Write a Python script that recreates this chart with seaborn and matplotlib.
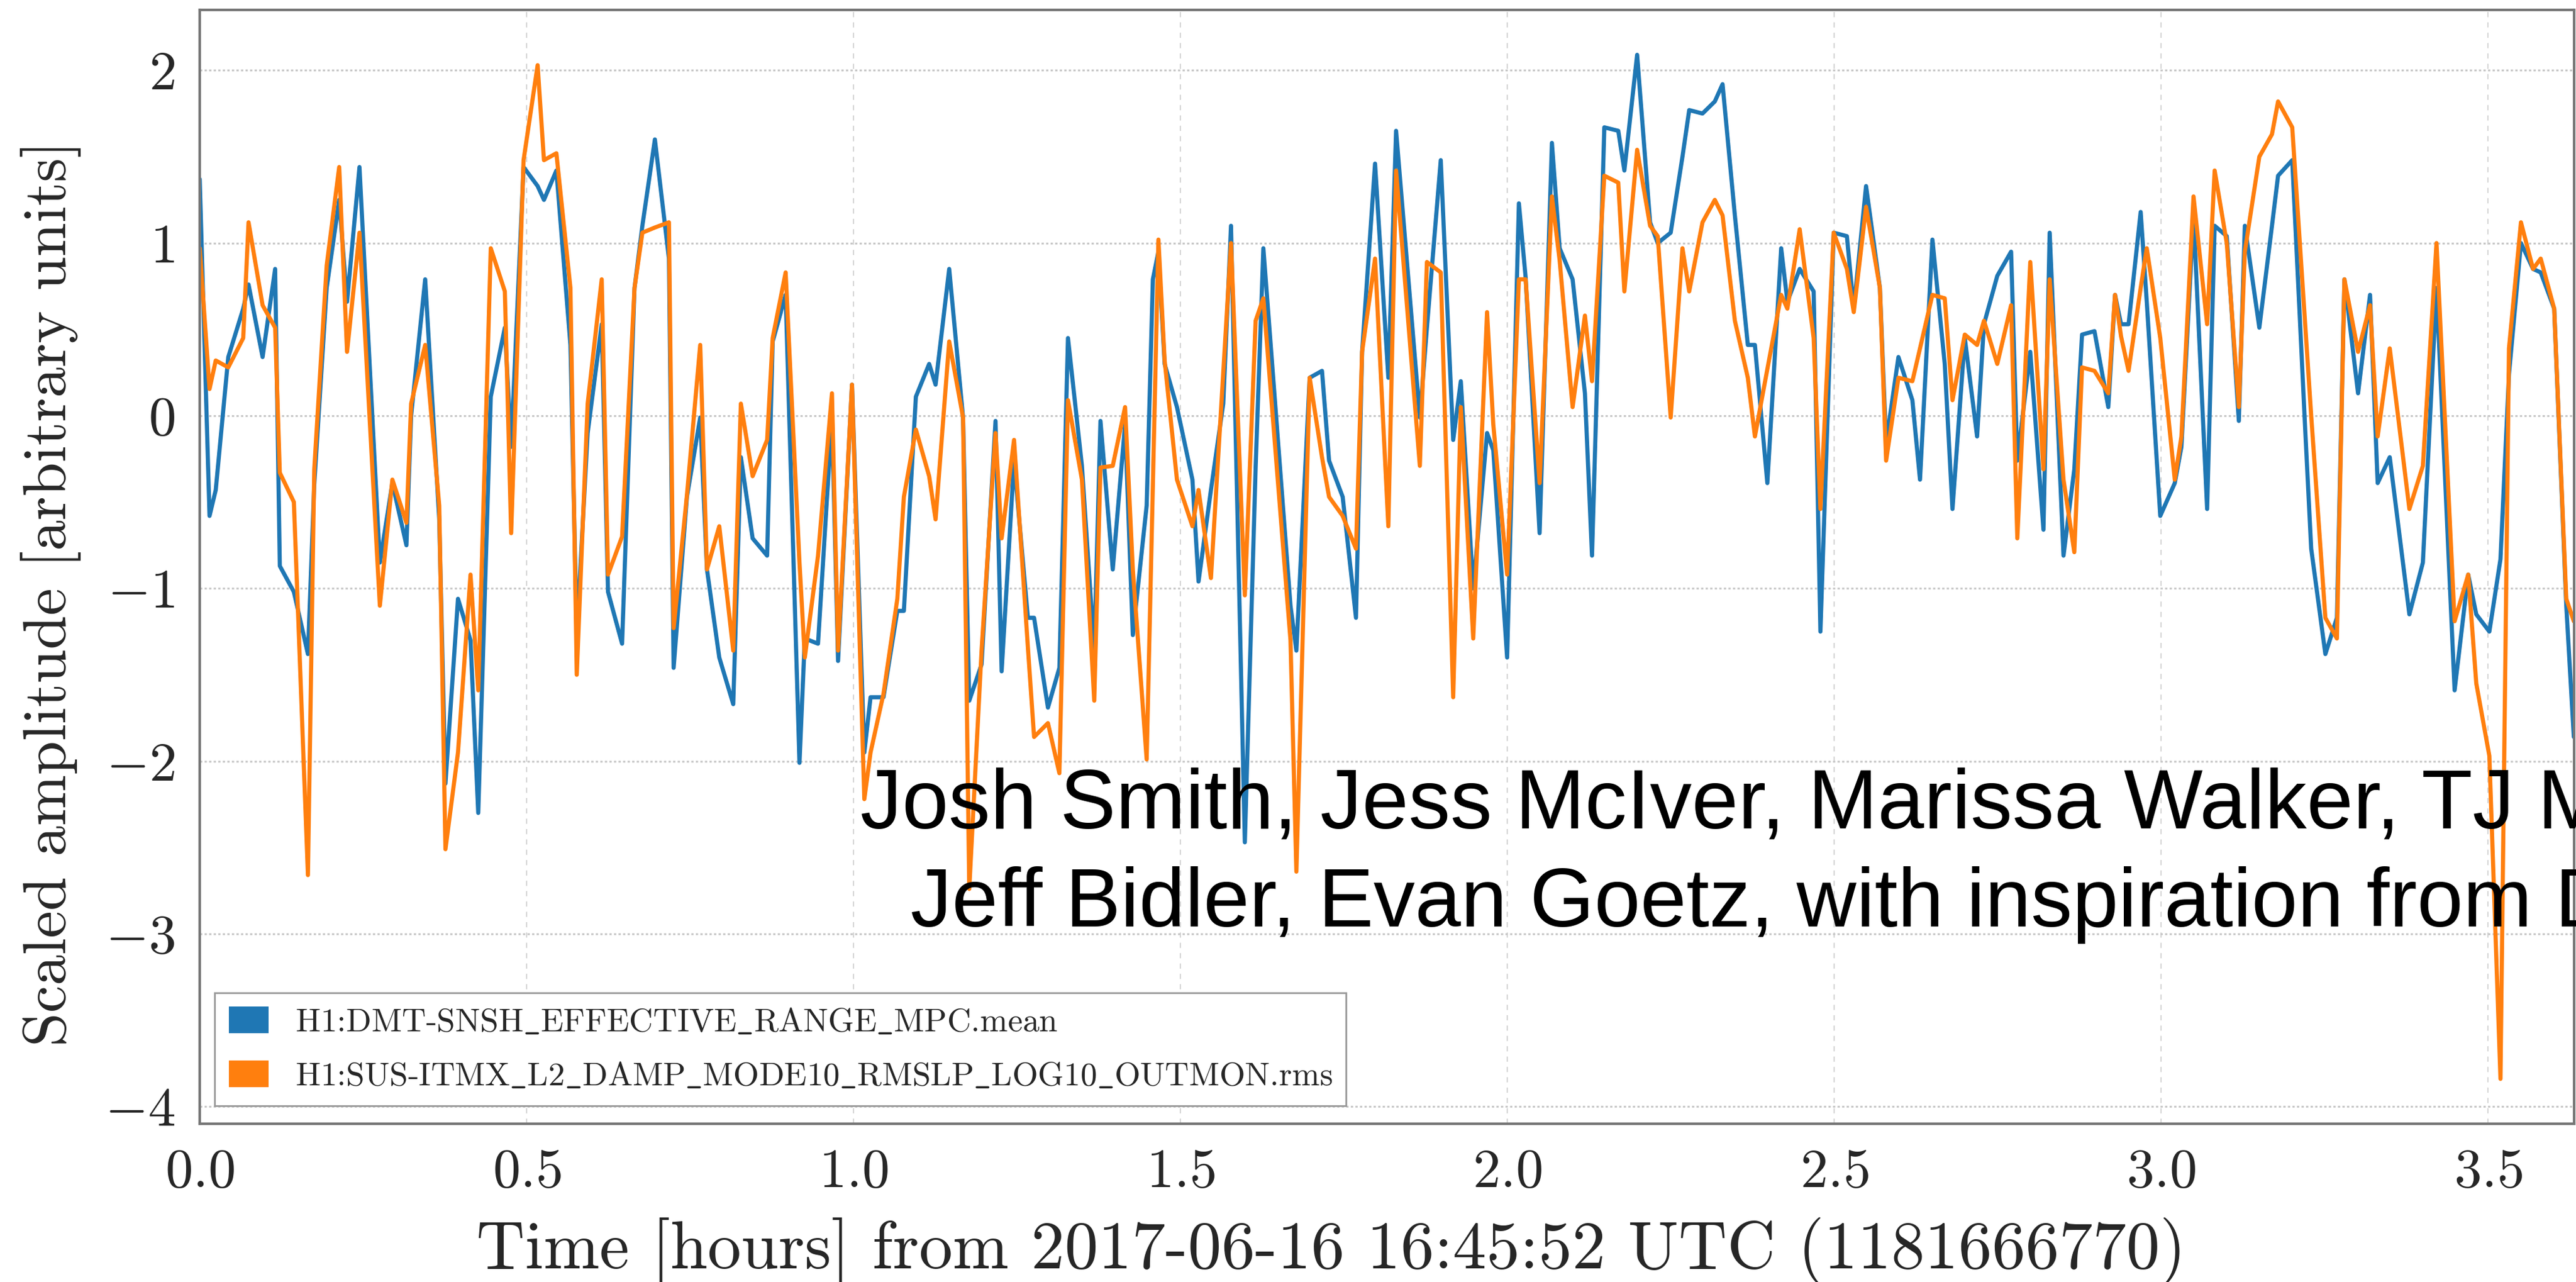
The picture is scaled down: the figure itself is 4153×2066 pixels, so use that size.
import numpy as np
import pandas as pd
import matplotlib
matplotlib.use("Agg")
import matplotlib.pyplot as plt
from matplotlib.patches import Patch
import seaborn as sns

# Sample times (minutes after 2017-06-16 16:45:52 UTC, GPS 1181666770)
minutes = [
    0.00, 0.90, 1.47, 2.62, 3.99, 4.48, 5.77, 6.92, 7.35, 8.64,
    9.93, 10.51, 11.65, 12.80, 13.52, 14.66, 16.53, 17.68, 18.97, 19.40,
    20.69, 21.98, 22.55, 23.70, 24.85, 25.56, 26.71, 28.00, 28.58, 29.72,
    31.01, 31.59, 32.73, 34.02, 34.60, 35.60, 36.89, 37.47, 38.76, 39.90,
    40.62, 41.77, 43.06, 43.49,
    44.71, 45.93, 46.55, 47.68, 48.96, 49.66, 50.74, 52.07, 52.58, 53.77,
    55.04, 55.53, 56.74, 58.02, 58.58, 59.86, 60.99, 61.56, 62.75, 64.02,
    64.62, 65.72, 66.94, 67.53, 68.78, 70.05, 70.62, 71.75, 73.03, 73.59,
    74.73, 76.00, 76.57, 77.84, 78.89, 79.68, 80.96, 82.09, 82.66, 83.79,
    84.92, 85.63, 86.90, 87.47,
    87.98, 88.55, 89.68, 91.10, 91.66, 92.80, 93.93, 94.64, 95.91, 96.90,
    97.61, 100.10, 100.64, 101.86, 102.99, 103.64, 104.89, 106.11, 106.67, 107.86,
    109.08, 109.79, 111.97, 112.62, 113.89, 115.03, 115.73, 116.87, 118.14, 118.71,
    119.98, 121.06, 121.68, 122.96, 124.09, 124.80, 125.99, 127.12, 127.77, 128.90,
    130.18, 130.74,
    131.91, 133.10, 133.80, 134.99, 136.07, 136.69, 137.91, 139.04, 139.75, 140.88,
    142.07, 142.72, 143.86, 145.13, 145.70, 146.83, 148.11, 148.73, 149.95, 151.16,
    151.79, 152.92, 154.19, 154.76, 155.89, 157.17, 157.87, 159.01, 160.14, 160.85,
    161.98, 163.11, 163.74, 164.96, 166.23, 166.80, 167.99, 169.20, 169.77, 171.04,
    172.03, 172.74, 173.88, 175.15,
    175.77, 176.32, 177.01, 178.12, 178.68, 179.92, 181.25, 181.86, 182.97, 184.22,
    184.91, 186.02, 187.13, 187.68, 189.01, 190.17, 190.73, 192.03, 193.22, 193.77,
    195.07, 196.13, 196.82, 198.07, 199.17, 199.87, 200.98, 202.78, 204.02, 205.27,
    206.93, 208.18, 208.92, 210.12, 211.14, 211.92, 213.02, 214.13, 214.83, 216.07,
    217.18, 217.87,
]

# H1:DMT-SNSH_EFFECTIVE_RANGE_MPC.mean, scaled
range_mean = [
    1.37, -0.58, -0.43, 0.34, 0.62, 0.76, 0.34, 0.85, -0.87, -1.02,
    -1.38, -0.40, 0.74, 1.25, 0.66, 1.44, -0.85, -0.39, -0.75, 0.00,
    0.79, -0.60, -2.13, -1.06, -1.30, -2.30, 0.11, 0.51, -0.18, 1.44,
    1.33, 1.25, 1.42, 0.41, -1.27, -0.10, 0.53, -1.02, -1.32, 0.74,
    1.10, 1.60, 0.91, -1.46,
    -0.47, -0.01, -0.89, -1.40, -1.67, -0.24, -0.71, -0.81, 0.43, 0.70,
    -2.01, -1.29, -1.32, -0.01, -1.42, 0.18, -1.95, -1.63, -1.63, -1.13,
    -1.13, 0.11, 0.30, 0.18, 0.85, -0.01, -1.65, -1.44, -0.03, -1.48,
    -0.26, -1.17, -1.17, -1.69, -1.46, 0.45, -0.29, -1.36, -0.03, -0.89,
    -0.05, -1.27, -0.52, 0.79,
    0.95, 0.30, 0.05, -0.37, -0.96, -0.43, 0.07, 1.10, -2.47, -0.30,
    0.97, -1.10, -1.36, 0.22, 0.26, -0.26, -0.47, -1.17, 0.37, 1.46,
    0.22, 1.65, -0.01, 0.51, 1.48, -0.14, 0.20, -1.00, -0.10, -0.20,
    -1.40, 1.23, 0.80, -0.68, 1.58, 0.97, 0.79, 0.13, -0.81, 1.67,
    1.65, 1.42,
    2.09, 1.12, 1.00, 1.06, 1.50, 1.77, 1.75, 1.82, 1.92, 1.16,
    0.41, 0.41, -0.39, 0.97, 0.66, 0.85, 0.72, -1.25, 1.06, 1.04,
    0.62, 1.33, 0.74, -0.16, 0.34, 0.09, -0.37, 1.02, 0.30, -0.54,
    0.45, -0.12, 0.53, 0.81, 0.95, -0.26, 0.37, -0.66, 1.06, -0.81,
    -0.31, 0.47, 0.49, 0.05,
    0.70, 0.53, 0.53, 1.18, 0.66, -0.58, -0.39, -0.18, 1.16, -0.54,
    1.10, 1.04, -0.03, 1.10, 0.51, 1.10, 1.39, 1.48, -0.08, -0.77,
    -1.38, -1.17, 0.79, 0.13, 0.70, -0.39, -0.24, -1.15, -0.85, 0.74,
    -1.59, -0.92, -1.15, -1.25, -0.83, 0.24, 1.00, 0.85, 0.83, 0.62,
    -1.10, -1.86,
]

# H1:SUS-ITMX_L2_DAMP_MODE10_RMSLP_LOG10_OUTMON.rms, scaled
itmx_rms = [
    0.97, 0.155, 0.32, 0.28, 0.45, 1.12, 0.64, 0.51, -0.33, -0.50,
    -2.66, -0.31, 0.87, 1.44, 0.37, 1.06, -1.10, -0.37, -0.62, 0.07,
    0.41, -0.52, -2.51, -1.95, -0.92, -1.59, 0.97, 0.72, -0.68, 1.48,
    2.03, 1.48, 1.52, 0.74, -1.50, 0.07, 0.79, -0.92, -0.70, 0.74,
    1.06, 1.09, 1.12, -1.23,
    -0.46, 0.41, -0.89, -0.64, -1.36, 0.07, -0.35, -0.14, 0.45, 0.83,
    -0.85, -1.40, -0.81, 0.13, -1.36, 0.18, -2.22, -1.95, -1.61, -1.06,
    -0.47, -0.08, -0.35, -0.60, 0.43, -0.01, -2.74, -1.36, -0.10, -0.71,
    -0.14, -1.34, -1.86, -1.78, -2.07, 0.09, -0.37, -1.65, -0.30, -0.29,
    0.05, -0.89, -1.99, -0.40,
    1.02, 0.32, -0.37, -0.64, -0.43, -0.94, 0.25, 1.00, -1.04, 0.55,
    0.68, -1.30, -2.64, 0.22, -0.24, -0.47, -0.58, -0.77, 0.37, 0.91,
    -0.64, 1.42, -0.29, 0.89, 0.83, -1.63, 0.05, -1.29, 0.60, -0.05,
    -0.92, 0.79, 0.79, -0.39, 1.27, 0.90, 0.05, 0.58, 0.20, 1.39,
    1.35, 0.72,
    1.54, 1.10, 1.04, -0.01, 0.97, 0.72, 1.12, 1.25, 1.16, 0.55,
    0.22, -0.12, 0.27, 0.70, 0.62, 1.08, 0.45, -0.54, 1.06, 0.85,
    0.60, 1.21, 0.74, -0.26, 0.22, 0.20, 0.39, 0.70, 0.68, 0.09,
    0.47, 0.41, 0.55, 0.30, 0.64, -0.71, 0.89, -0.31, 0.79, -0.37,
    -0.79, 0.28, 0.26, 0.13,
    0.70, 0.46, 0.26, 0.74, 0.97, 0.45, -0.37, -0.12, 1.27, 0.53,
    1.42, 1.00, 0.05, 0.95, 1.50, 1.63, 1.82, 1.67, 0.53, 0.00,
    -1.17, -1.29, 0.79, 0.37, 0.64, -0.12, 0.39, -0.54, -0.29, 1.00,
    -1.19, -0.92, -1.55, -1.97, -3.84, 0.39, 1.12, 0.85, 0.91, 0.62,
    -1.06, -1.19,
]

channels = [
    "H1:DMT-SNSH_EFFECTIVE_RANGE_MPC.mean",
    "H1:SUS-ITMX_L2_DAMP_MODE10_RMSLP_LOG10_OUTMON.rms",
]
colors = ["#1f77b4", "#ff7f0e"]
x_ticks = [0.0, 0.5, 1.0, 1.5, 2.0, 2.5, 3.0, 3.5]
y_ticks = [-4, -3, -2, -1, 0, 1, 2]
credit_lines = [
    "Josh Smith, Jess McIver, Marissa Walker, TJ Massinger,",
    "Jeff Bidler, Evan Goetz, with inspiration from Duncan Macleod",
]

assert len(minutes) == len(range_mean) == len(itmx_rms)

sns.set_theme(style="white")
plt.rcParams["font.family"] = ["cmr10", "DejaVu Serif"]
plt.rcParams["mathtext.fontset"] = "cm"
plt.rcParams["axes.formatter.use_mathtext"] = True
plt.rcParams["axes.unicode_minus"] = True

hours = np.asarray(minutes) / 60.0
df = pd.DataFrame({
    "hours": np.concatenate([hours, hours]),
    "amp": np.concatenate([range_mean, itmx_rms]),
    "channel": [channels[0]] * len(hours) + [channels[1]] * len(hours),
})

W, H = 4153, 2066
fig = plt.figure(figsize=(W / 100, H / 100), dpi=100)
ax = fig.add_axes([322 / W, 1 - 1811 / H, (4150 - 322) / W, (1811 - 16) / H])

sns.lineplot(data=df, x="hours", y="amp", hue="channel", palette=colors,
             linewidth=4.8, legend=False, estimator=None, sort=False, ax=ax)

ax.set_xlim(0, 217.9 / 60)
ax.set_ylim(-4.1, 2.35)
ax.set_xticks(x_ticks)
ax.set_yticks(y_ticks)

ax.xaxis.grid(True, linestyle=(0, (4, 4)), color="#d6d6d6", linewidth=1.5)
ax.yaxis.grid(True, linestyle=(0, (1.2, 1.2)), color="#c8c8c8", linewidth=2.2)
ax.set_axisbelow(True)

ax.tick_params(axis="both", direction="out", length=15, width=2,
               color="black", labelsize=64, pad=14)
for s in ax.spines.values():
    s.set_color("#777777")
    s.set_linewidth(3)

ax.set_xlabel("Time [hours] from 2017-06-16 16:45:52 UTC (1181666770)", fontsize=78)
ax.set_ylabel("Scaled amplitude [arbitrary units]", fontsize=71)
ax.xaxis.set_label_coords(0.4765, -0.084)
ax.yaxis.set_label_coords(-0.050, 0.476)

labels = [c.replace("_", r"$\_$") for c in channels]
handles = [Patch(facecolor=c, edgecolor="none", label=l) for c, l in zip(colors, labels)]
leg = ax.legend(handles=handles, loc="lower left", bbox_to_anchor=(0.0063, 0.0162),
                borderaxespad=0, fontsize=38.5, handlelength=1.2, handleheight=0.86,
                handletextpad=0.8, labelspacing=0.7, borderpad=0.42,
                frameon=True, fancybox=False, framealpha=1, edgecolor="#999999")
leg.get_frame().set_linewidth(2)

fig.text(1387 / W, 1 - 1335 / H, credit_lines[0], family="Liberation Sans",
         fontsize=97, ha="left", va="baseline", color="black")
fig.text(1468 / W, 1 - 1493 / H, credit_lines[1], family="Liberation Sans",
         fontsize=96, ha="left", va="baseline", color="black")

fig.savefig("out.png", dpi=100)
